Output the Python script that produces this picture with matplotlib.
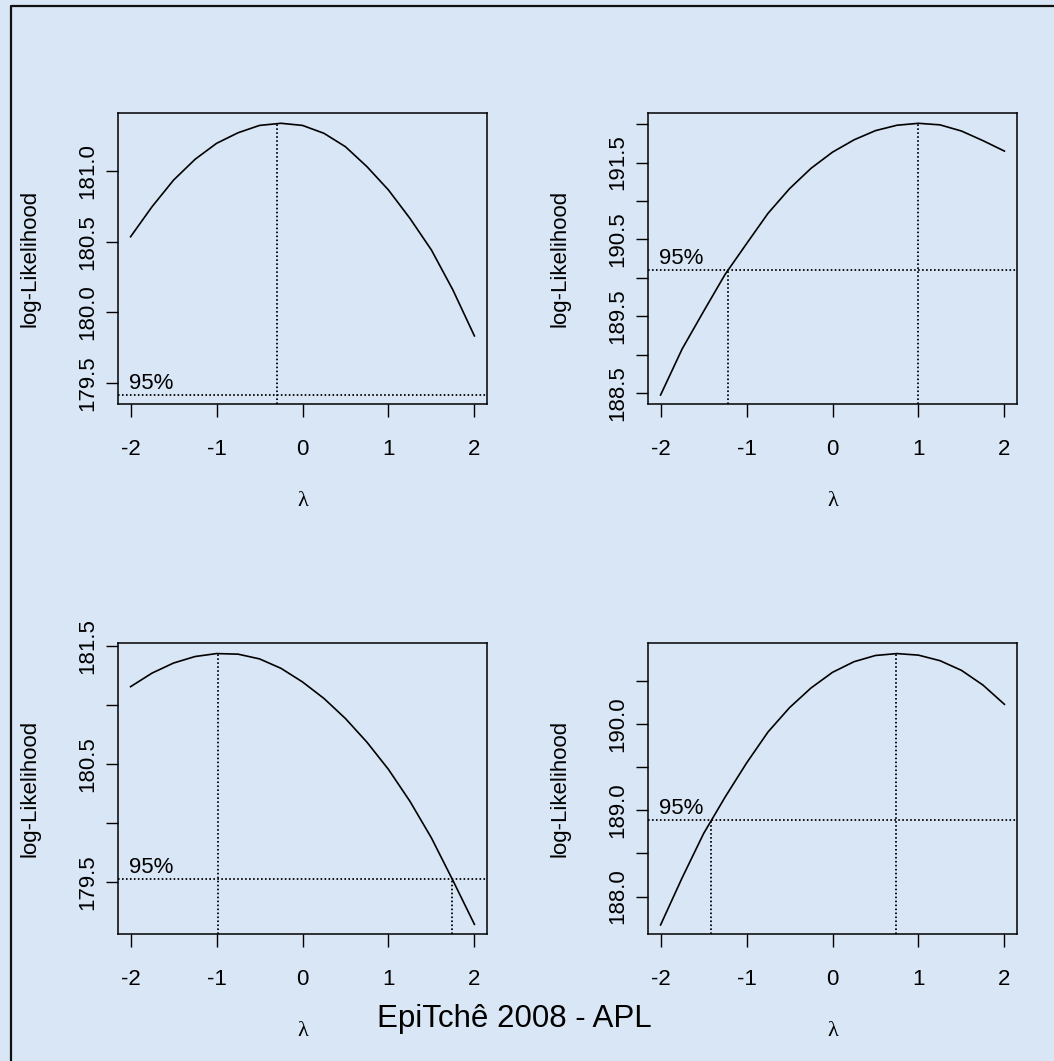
import matplotlib
matplotlib.use("Agg")
import matplotlib.pyplot as plt
from matplotlib.lines import Line2D

plt.rcParams['font.family'] = ['Liberation Sans', 'DejaVu Sans']

# lambda grid of the Box-Cox profile
lam = [-2.0, -1.75, -1.5, -1.25, -1.0, -0.75, -0.5, -0.25, 0.0,
       0.25, 0.5, 0.75, 1.0, 1.25, 1.5, 1.75, 2.0]

# profile log-likelihood for each of the 4 panels
ll_1 = [180.535, 180.748, 180.936, 181.083, 181.196, 181.271, 181.323, 181.338, 181.323,
        181.267, 181.172, 181.031, 180.866, 180.665, 180.441, 180.158, 179.833]
ll_2 = [188.478, 189.075, 189.565, 190.045, 190.445, 190.840, 191.160, 191.425, 191.635,
        191.795, 191.915, 191.985, 192.010, 191.990, 191.910, 191.785, 191.649]
ll_3 = [181.156, 181.271, 181.356, 181.411, 181.436, 181.431, 181.391, 181.311, 181.196,
        181.056, 180.886, 180.686, 180.456, 180.186, 179.876, 179.516, 179.145]
ll_4 = [187.671, 188.215, 188.728, 189.150, 189.545, 189.905, 190.186, 190.414, 190.595,
        190.718, 190.790, 190.812, 190.794, 190.730, 190.618, 190.448, 190.225]

# lambda at the max, and max value
lam_hat = [-0.3, 0.99, -0.98, 0.74]
ll_max = [181.338, 192.010, 181.438, 190.812]
# 95% cut-off line
cutoff = [179.417, 190.107, 179.528, 188.884]
# 95% limits that fall inside [-2, 2]
ci_1 = []
ci_2 = [-1.22]
ci_3 = [1.74]
ci_4 = [-1.41]

# y axis limits and ticks
ylim_1 = (179.351, 181.413)
ylim_2 = (188.361, 192.148)
ylim_3 = (179.063, 181.528)
ylim_4 = (187.566, 190.938)
yticks_1 = [179.5, 180.0, 180.5, 181.0]
ylabels_1 = ["179.5", "180.0", "180.5", "181.0"]
yticks_2 = [188.5, 189.0, 189.5, 190.0, 190.5, 191.0, 191.5, 192.0]
ylabels_2 = ["188.5", "", "189.5", "", "190.5", "", "191.5", ""]
yticks_3 = [179.5, 180.0, 180.5, 181.0, 181.5]
ylabels_3 = ["179.5", "", "180.5", "", "181.5"]
yticks_4 = [188.0, 188.5, 189.0, 189.5, 190.0, 190.5]
ylabels_4 = ["188.0", "", "189.0", "", "190.0", ""]
xticks = [-2, -1, 0, 1, 2]
xlabels = ["-2", "-1", "0", "1", "2"]

W, H = 1054, 1061
fig = plt.figure(figsize=(W / 100, H / 100), dpi=100)
fig.patch.set_facecolor('#d9e6f5')

# outer frame (only top and left edges are visible)
fig.add_artist(Line2D([11 / W, 11 / W, 1.0], [0.0, 1 - 6 / H, 1 - 6 / H],
                      transform=fig.transFigure, color='#111111', lw=1.6))

panels = [
    (ll_1, 0, ci_1, ylim_1, yticks_1, ylabels_1),
    (ll_2, 1, ci_2, ylim_2, yticks_2, ylabels_2),
    (ll_3, 2, ci_3, ylim_3, yticks_3, ylabels_3),
    (ll_4, 3, ci_4, ylim_4, yticks_4, ylabels_4),
]
lefts = [117.7, 647.7, 117.7, 647.7]
bottoms = [404, 404, 934, 934]
aw, ah = 369.6, 291.3

dots = (0, (0.9, 1.3))
fs = 16

for ll, i, ci, ylim, yt, yl in panels:
    ax = fig.add_axes([lefts[i] / W, 1 - bottoms[i] / H, aw / W, ah / H])
    ax.set_facecolor('none')
    ax.set_xlim(-2.15, 2.15)
    ax.set_ylim(*ylim)

    ax.plot(lam, ll, color='black', lw=1.2)

    y0 = ylim[0]
    ax.axhline(cutoff[i], color='black', lw=1.3, linestyle=dots)
    ax.vlines(lam_hat[i], y0, ll_max[i], color='black', lw=1.3, linestyle=dots)
    for c in ci:
        ax.vlines(c, y0, cutoff[i], color='black', lw=1.3, linestyle=dots)

    ax.annotate("95%", (-2.0, cutoff[i]), xytext=(-1, 4.3), textcoords='offset points',
                ha='left', va='baseline', fontsize=fs)

    ax.set_xticks(xticks)
    ax.set_xticklabels(xlabels)
    ax.set_yticks(yt)
    ax.set_yticklabels(yl)
    ax.tick_params(direction='out', length=9, width=1.0, labelsize=fs)
    ax.tick_params(axis='x', pad=16.5)
    ax.tick_params(axis='y', pad=5, labelrotation=90)
    for lbl in ax.get_yticklabels():
        lbl.set_va('center')
    for s in ax.spines.values():
        s.set_linewidth(1.1)

    ax.text(-0.2386, 0.5, "log-Likelihood", rotation=90, ha='center', va='center',
            fontsize=fs, transform=ax.transAxes)
    ax.text(0.5, -0.3364, "λ", ha='center', va='center', fontsize=fs,
            family=['Liberation Serif', 'DejaVu Serif'], transform=ax.transAxes)

fig.text(514 / W, 1 - 1026.7 / H, "EpiTchê 2008 - APL", fontsize=22.5,
         ha='center', va='baseline')

fig.savefig("out.png", dpi=100, facecolor=fig.get_facecolor())
